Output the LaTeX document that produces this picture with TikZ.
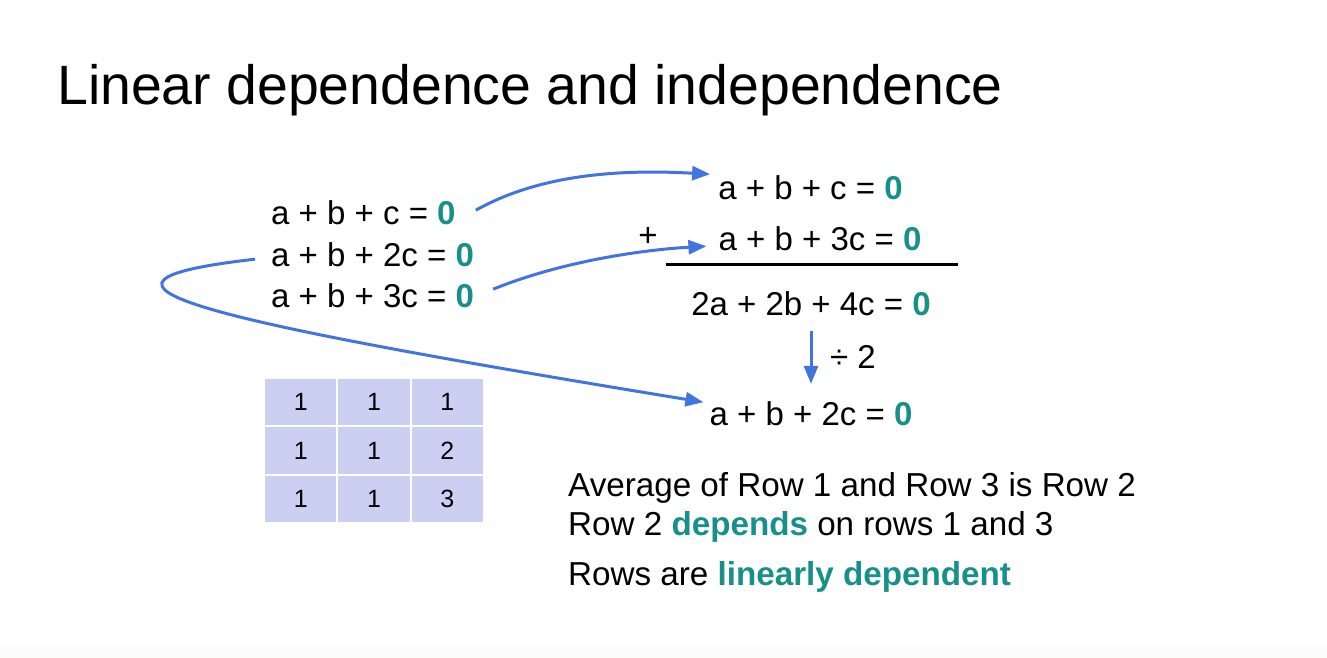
\documentclass[tikz,border=0pt]{standalone}
\usepackage{fontspec}
\setmainfont{Liberation Sans}
\usetikzlibrary{arrows.meta}
\definecolor{teal0}{RGB}{24,144,138}
\definecolor{arrblue}{RGB}{66,116,224}
\definecolor{cellfill}{RGB}{203,208,242}
\definecolor{bandfill}{RGB}{252,253,250}
\newcommand\tealzero{\textcolor{teal0}{\textbf{0}}}
\begin{document}
\begin{tikzpicture}[x=1pt,y=-1pt,
  eq/.style={inner sep=0pt, font=\fontsize{33}{40}\selectfont},
  body/.style={inner sep=0pt, anchor=base west, font=\fontsize{33.2}{40}\selectfont},
  cell/.style={fill=cellfill, minimum width=71.3pt, minimum height=46.3pt, inner sep=0pt, font=\fontsize{25}{30}\selectfont},
  arr/.style={draw=arrblue, line width=3pt, -{Triangle[length=18pt,width=14pt]}}]
\useasboundingbox (0,0) rectangle (1327,658);
\fill[white] (0,0) rectangle (1327,658);
\fill[bandfill] (0,646) rectangle (1327,658);
% title
\node[anchor=base west, inner sep=0pt, font=\fontsize{55.4}{66}\selectfont] (title) at (57,105) {Linear dependence and independence};
% left equations
\node[eq, anchor=base west] (l1) at (271,224) {a + b + c = \tealzero};
\node[eq, anchor=base west] (l2) at (271,266) {a + b + 2c = \tealzero};
\node[eq, anchor=base west] (l3) at (271,307) {a + b + 3c = \tealzero};
% right equations
\node[eq, anchor=base] (r1) at (810.5,199) {a + b + c = \tealzero};
\node[eq] (plus) at (648,237) {+};
\node[eq, anchor=base] (r2) at (820,250) {a + b + 3c = \tealzero};
\draw[line width=3pt] (666,264) -- (958,264);
\node[eq, anchor=base] (r3) at (811,315) {2a + 2b + 4c = \tealzero};
\node[eq, anchor=base west] (div) at (830,368) {÷ 2};
\node[eq, anchor=base] (r4) at (811,425) {a + b + 2c = \tealzero};
% arrows
\draw[arr] ([xshift=20pt,yshift=2pt]l1.east) .. controls (530,180) and (600,168) .. ([xshift=-8pt,yshift=13pt]r1.west);
\draw[arr] ([xshift=19pt,yshift=6pt]l3.east) .. controls (560,262) and (640,250) .. ([xshift=-12pt,yshift=-8pt]r2.west);
\draw[arr] ([xshift=-16pt,yshift=-5pt]l2.west) .. controls (45,283) and (190,318) .. ([xshift=-6pt,yshift=11pt]r4.west);
\draw[arr] ([yshift=-15pt]r3.south) -- ([yshift=17pt]r4.north);
% matrix
\node[cell] (m11) at (300.7,402.2) {1};
\node[cell] (m12) at (374,402.2) {1};
\node[cell] (m13) at (447.3,402.2) {1};
\node[cell] (m21) at (300.7,450.5) {1};
\node[cell] (m22) at (374,450.5) {1};
\node[cell] (m23) at (447.3,450.5) {2};
\node[cell] (m31) at (300.7,498.8) {1};
\node[cell] (m32) at (374,498.8) {1};
\node[cell] (m33) at (447.3,498.8) {3};
% bottom text
\node[body] (t1) at (568,496) {Average of Row 1 and Row 3 is Row 2};
\node[body] (t2) at (568,535) {Row 2 \textcolor{teal0}{\textbf{depends}} on rows 1 and 3};
\node[body] (t3) at (568,585) {Rows are \textcolor{teal0}{\textbf{linearly dependent}}};
\end{tikzpicture}
\end{document}
